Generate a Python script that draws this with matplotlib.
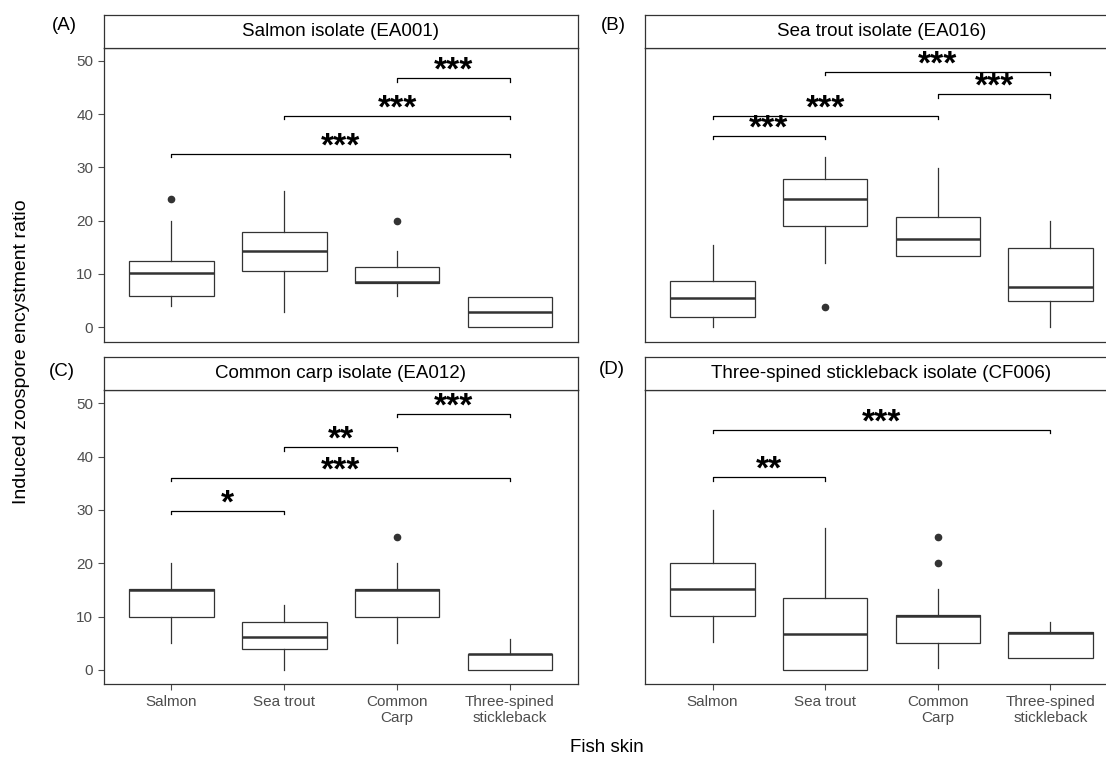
import matplotlib
matplotlib.use("Agg")
from matplotlib import pyplot as plt

plt.rcParams['font.family'] = ['Liberation Sans', 'DejaVu Sans']

# fish skin categories (x axis)
categories = ["Salmon", "Sea trout", "Common\nCarp", "Three-spined\nstickleback"]

titles = ["Salmon isolate (EA001)", "Sea trout isolate (EA016)",
          "Common carp isolate (EA012)", "Three-spined stickleback isolate (CF006)"]
tags = ["(A)", "(B)", "(C)", "(D)"]

# box statistics: whisker low, Q1, median, Q3, whisker high, outliers
lo_A = [4.0, 2.8, 5.9, 0.0]
q1_A = [5.9, 10.6, 8.4, 0.0]
med_A = [10.1, 14.4, 8.5, 2.8]
q3_A = [12.4, 17.9, 11.3, 5.6]
hi_A = [20.0, 25.6, 14.4, 5.6]
out_A = [[24.0], [], [20.0], []]

lo_B = [0.0, 12.1, 13.4, 0.0]
q1_B = [2.0, 19.0, 13.4, 4.9]
med_B = [5.5, 24.1, 16.6, 7.6]
q3_B = [8.7, 27.8, 20.7, 14.9]
hi_B = [15.4, 32.0, 29.9, 20.0]
out_B = [[], [3.9], [], []]

lo_C = [5.1, 0.0, 5.0, 0.0]
q1_C = [10.0, 3.9, 10.0, 0.0]
med_C = [15.0, 6.1, 15.0, 2.9]
q3_C = [15.1, 8.9, 15.1, 2.9]
hi_C = [20.0, 12.1, 20.0, 5.75]
out_C = [[], [], [25.0], []]

lo_D = [5.25, 0.0, 0.3, 2.2]
q1_D = [10.1, 0.0, 5.1, 2.2]
med_D = [15.2, 6.8, 10.2, 7.0]
q3_D = [20.1, 13.4, 10.25, 7.1]
hi_D = [30.0, 26.6, 15.1, 9.0]
out_D = [[], [], [20.0, 25.0], []]

# significance brackets: (group i, group j, height, label), groups 1-based
sig_A = [(1, 4, 32.6, "***"), (2, 4, 39.6, "***"), (3, 4, 46.7, "***")]
sig_B = [(1, 2, 35.9, "***"), (1, 3, 39.7, "***"), (3, 4, 43.7, "***"), (2, 4, 47.9, "***")]
sig_C = [(1, 2, 29.8, "*"), (1, 4, 36.0, "***"), (2, 3, 41.75, "**"), (3, 4, 48.0, "***")]
sig_D = [(1, 2, 36.1, "**"), (1, 4, 45.0, "***")]

panels = [(lo_A, q1_A, med_A, q3_A, hi_A, out_A, sig_A),
          (lo_B, q1_B, med_B, q3_B, hi_B, out_B, sig_B),
          (lo_C, q1_C, med_C, q3_C, hi_C, out_C, sig_C),
          (lo_D, q1_D, med_D, q3_D, hi_D, out_D, sig_D)]

W, H = 1106, 758
fig = plt.figure(figsize=(W / 100, H / 100), dpi=100)

# pixel boxes (left, top, right, bottom) of each panel; right column is cut by the image edge
boxes = [(103.6, 47.7, 577.7, 341.7), (645.0, 47.7, 1118.0, 341.7),
         (103.6, 390.3, 577.7, 684.3), (645.0, 390.3, 1118.0, 684.3)]
strip_h = 33
tag_xy = [(64, 25), (613, 25), (62, 371), (612, 370)]

dark = "#333333"
grey = "#4D4D4D"

def px_axes(l, t, r, b):
    return fig.add_axes([l / W, 1 - b / H, (r - l) / W, (b - t) / H])

for k, (lo, q1, med, q3, hi, out, sig) in enumerate(panels):
    l, t, r, b = boxes[k]
    ax = px_axes(l, t, r, b)
    stats = []
    for i in range(len(categories)):
        stats.append(dict(med=med[i], q1=q1[i], q3=q3[i], whislo=lo[i],
                          whishi=hi[i], fliers=out[i]))
    ax.bxp(stats, positions=range(1, 5), widths=0.75, showcaps=False,
           patch_artist=True,
           boxprops=dict(facecolor="white", edgecolor=dark, linewidth=0.9),
           whiskerprops=dict(color=dark, linewidth=0.9),
           medianprops=dict(color=dark, linewidth=1.8),
           flierprops=dict(marker="o", markerfacecolor=dark, markeredgecolor=dark,
                           markersize=4.5))
    for (i, j, y, lab) in sig:
        ax.plot([i, i, j, j], [y - 0.6, y, y, y - 0.6], color="black", linewidth=0.9)
        ax.text((i + j) / 2, y - 0.3, lab, ha="center", va="baseline",
                fontsize=24, fontweight="bold", color="black")
    ax.set_xlim(0.4, 4.6)
    ax.set_ylim(-2.7, 52.45)
    ax.set_yticks([0, 10, 20, 30, 40, 50])
    ax.set_xticks(range(1, 5))
    for s in ax.spines.values():
        s.set_color(dark)
        s.set_linewidth(0.9)
    ax.tick_params(colors=grey, labelcolor=grey, labelsize=11, length=4, width=0.8)
    if k in (0, 2):
        ax.set_yticklabels(["0", "10", "20", "30", "40", "50"])
    else:
        ax.tick_params(axis="y", left=False, labelleft=False)
    if k in (2, 3):
        ax.set_xticklabels(categories)
    else:
        ax.tick_params(axis="x", bottom=False, labelbottom=False)

    # strip on top of each panel
    st = px_axes(l, t - strip_h, r, t)
    st.set_xticks([])
    st.set_yticks([])
    for s in st.spines.values():
        s.set_color(dark)
        s.set_linewidth(0.9)
    st.text(0.5, 0.5, titles[k], ha="center", va="center",
            fontsize=13.5, color="black", transform=st.transAxes)

    fig.text(tag_xy[k][0] / W, 1 - tag_xy[k][1] / H, tags[k], ha="center", va="center",
             fontsize=13.5, color="black")

fig.text(607 / W, 1 - 748 / H, "Fish skin", ha="center", va="center", fontsize=13.5)
fig.text(22 / W, 1 - 352 / H, "Induced zoospore encystment ratio", ha="center",
         va="center", rotation=90, fontsize=14)

fig.savefig("out.png", dpi=100)
